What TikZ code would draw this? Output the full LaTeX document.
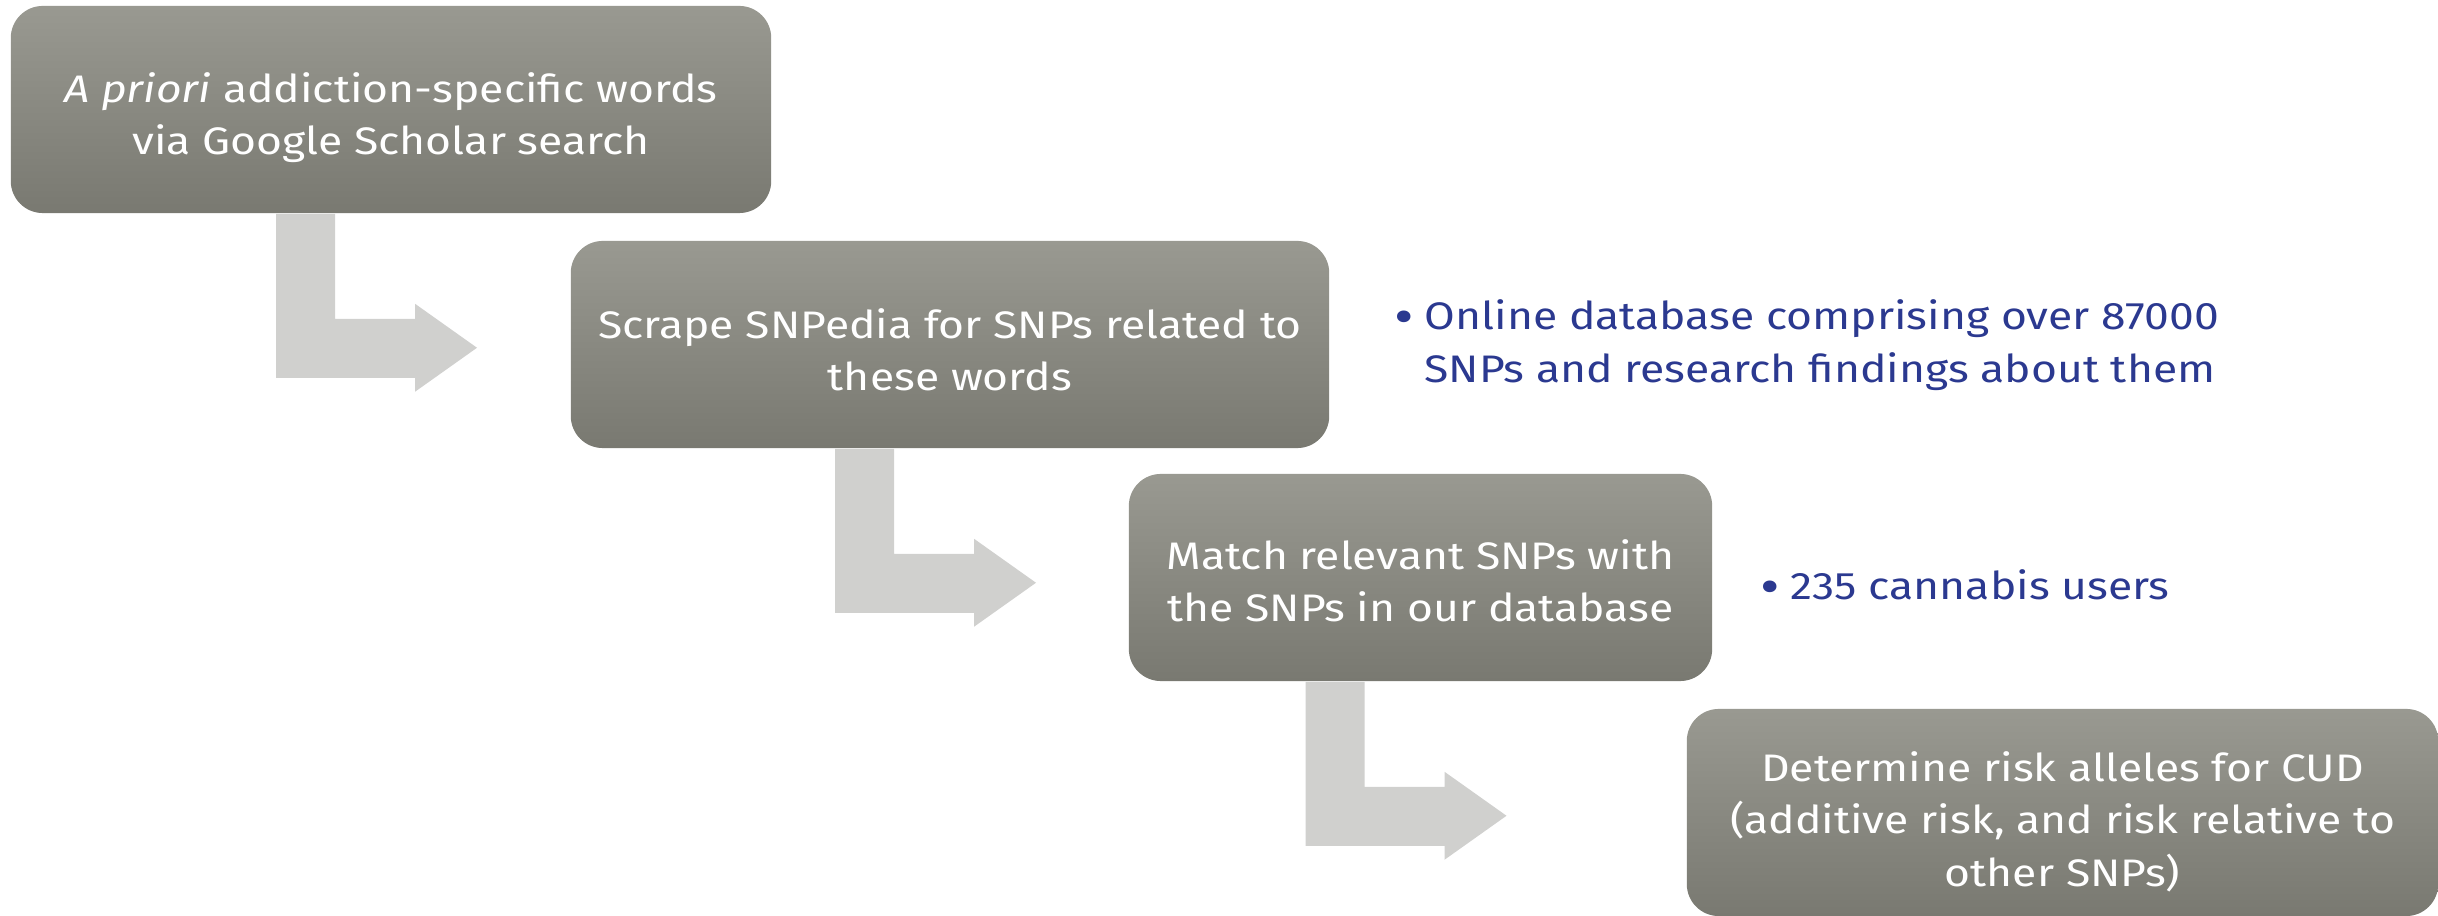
\documentclass[tikz,border=0pt]{standalone}
\usepackage{fontspec}
\setmainfont[FakeStretch=1.16]{Fira Sans}
\usetikzlibrary{calc}
\definecolor{boxtop}{RGB}{153,153,145}
\definecolor{boxbot}{RGB}{121,121,113}
\definecolor{arrowgray}{RGB}{208,208,206}
\definecolor{noteblue}{RGB}{43,57,144}
\newcommand\boxfont{\fontsize{10.9}{14.9}\selectfont}
\newcommand\notebullet{\llap{\raisebox{-0.25ex}{\scalebox{1.35}{\textbullet}}\hspace{0.11cm}}}
\tikzset{
  stepbox/.style={rounded corners=0.32cm, top color=boxtop, bottom color=boxbot,
    draw=none, inner sep=0pt, minimum height=2.07cm},
  steptext/.style={text=white, align=center, inner sep=0pt, font=\boxfont},
  notetext/.style={text=noteblue, align=left, inner sep=0pt, anchor=west, font=\boxfont},
  flowarrow/.style={fill=arrowgray, draw=none},
}
% bent block arrow leaving the bottom of a step box; #2 names its tip
\newcommand\steparrow[2]{%
  \fill[flowarrow] ($(#1.south)+(-115,0)$) -- ++(59,0) -- ++(0,105) -- ++(80,0)
    -- ++(0,-15) -- ($(#1.south)+(86,134)$) coordinate (#2)
    -- ($(#1.south)+(24,178)$) -- ++(0,-14) -- ++(-139,0) -- cycle;}
\begin{document}
\begin{tikzpicture}[x=0.01cm, y=-0.01cm]
  \useasboundingbox (0,0) rectangle (2438,916);

  \node[stepbox, minimum width=7.60cm,
    label={[steptext, yshift=-0.08cm]center:{\textit{A priori} addiction-specific words\\via Google Scholar search}}]
    (b1) at (391,109.5) {};
  \node[stepbox, minimum width=7.58cm,
    label={[steptext, yshift=-0.05cm]center:{Scrape SNPedia for SNPs related to\\these words}}]
    (b2) at (950,344.5) {};
  \node[stepbox, minimum width=5.83cm,
    label={[steptext, yshift=-0.03cm]center:{Match relevant SNPs with\\the SNPs in our database}}]
    (b3) at (1420.5,577.5) {};
  \node[stepbox, minimum width=7.51cm,
    label={[steptext, yshift=-0.09cm]center:{Determine risk alleles for CUD\\(additive risk, and risk relative to\\other SNPs)}}]
    (b4) at (2062.5,812.5) {};

  \steparrow{b1}{t1}
  \steparrow{b2}{t2}
  \steparrow{b3}{t3}

  \node[notetext] (n1) at (1424,345)
    {\notebullet Online database comprising over 87000\\SNPs and research findings about them};
  \node[notetext] (n2) at (1790,587)
    {\notebullet 235 cannabis users};
\end{tikzpicture}
\end{document}
